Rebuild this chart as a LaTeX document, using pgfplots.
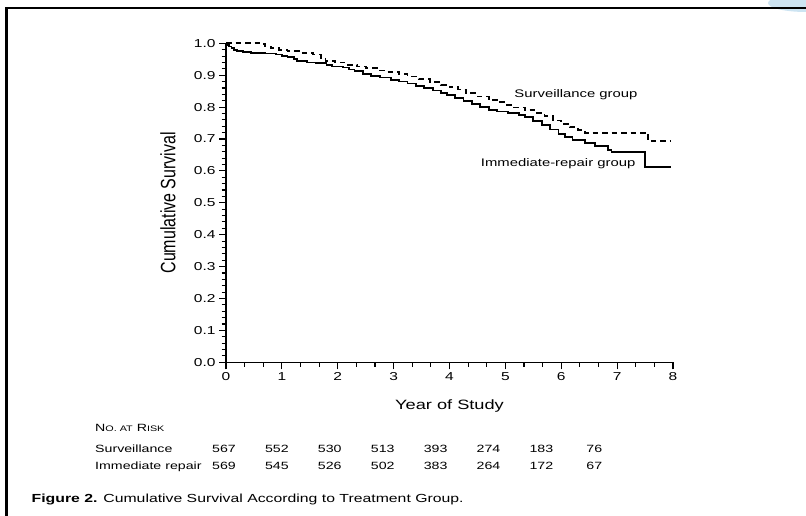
\documentclass[border=0pt]{standalone}
\usepackage{fontspec}
\setmainfont{Liberation Sans}[FakeStretch=1.35]
\newfontfamily\plainsans{Liberation Sans}
\usepackage{pgfplots}
\pgfplotsset{compat=1.18}
\definecolor{wmblue}{RGB}{205,228,242}
\begin{document}
\begin{tikzpicture}
\path[use as bounding box] (0,0) rectangle (806pt,-516pt);
\begin{scope}
\clip (0,0) rectangle (806pt,-516pt);
\fill[wmblue] (806pt,-3pt) ellipse (38pt and 9pt);
\end{scope}
\draw[line width=2.2pt] (6.5pt,-516pt) -- (6.5pt,-8pt) -- (806pt,-8pt);
\begin{axis}[
  at={(226pt,-362.3pt)}, anchor=south west,
  scale only axis, width=447pt, height=319pt,
  xmin=0, xmax=8, ymin=0, ymax=1,
  axis lines=left, axis line style={-, line width=1.3pt},
  xtick={0,1,2,3,4,5,6,7,8},
  ytick={0,0.1,0.2,0.3,0.4,0.5,0.6,0.7,0.8,0.9,1.0},
  minor x tick num=2, minor y tick num=4,
  tick align=outside, major tick length=7pt, minor tick length=4.3pt,
  every tick/.style={black, line width=1.1pt},
  ticklabel style={font=\fontsize{11.5}{12}\selectfont},
  /pgf/number format/assume math mode=true,
  yticklabel style={/pgf/number format/.cd, fixed, fixed zerofill, precision=1},
  xticklabel style={/pgf/number format/.cd, fixed, precision=0},
  xlabel={\fontsize{13.5}{14}\selectfont Year of Study},
  xlabel style={at={(axis description cs:0.5,-0.137)}, anchor=center},
  ylabel={\plainsans\fontsize{16}{16}\selectfont\scalebox{1}[1.3]{Cumulative Survival}},
  ylabel style={at={(axis description cs:-0.13,0.5)}, anchor=center, rotate=0},
  clip=false,
]
\addplot[const plot, black, line width=1.8pt] coordinates {
(0,1.0) (0.03,0.995) (0.06,0.99) (0.10,0.985) (0.14,0.98) (0.20,0.977)
(0.30,0.973) (0.45,0.970) (0.70,0.968) (0.90,0.965) (1.00,0.960) (1.10,0.957)
(1.22,0.950) (1.27,0.945) (1.45,0.940) (1.60,0.937) (1.80,0.932) (1.90,0.927)
(2.10,0.924) (2.20,0.918) (2.30,0.912) (2.45,0.905) (2.60,0.898) (2.75,0.893)
(2.95,0.886) (3.10,0.880) (3.25,0.874) (3.40,0.866) (3.55,0.860) (3.70,0.852)
(3.85,0.845) (3.95,0.838) (4.10,0.829) (4.25,0.819) (4.40,0.810) (4.55,0.800)
(4.70,0.791) (4.85,0.786) (5.05,0.781) (5.25,0.775) (5.35,0.770) (5.50,0.757)
(5.65,0.743) (5.80,0.730) (5.95,0.716) (6.06,0.707) (6.20,0.698) (6.42,0.687)
(6.60,0.678) (6.84,0.666) (6.90,0.660) (7.50,0.611) (7.97,0.611)
};
\addplot[const plot, black, line width=1.8pt, dash pattern=on 5.5pt off 4pt] coordinates {
(0,1.0) (0.60,0.997) (0.70,0.99) (0.80,0.985) (0.95,0.98) (1.10,0.975)
(1.35,0.970) (1.55,0.965) (1.70,0.955) (1.78,0.945) (1.95,0.940) (2.15,0.933)
(2.35,0.927) (2.50,0.922) (2.70,0.915) (2.85,0.911) (3.10,0.904) (3.25,0.896)
(3.45,0.889) (3.65,0.879) (3.85,0.870) (4.00,0.862) (4.15,0.855) (4.30,0.843)
(4.50,0.833) (4.70,0.822) (4.85,0.815) (5.00,0.806) (5.15,0.799) (5.35,0.790)
(5.55,0.782) (5.70,0.772) (5.85,0.758) (6.00,0.747) (6.15,0.737) (6.30,0.728)
(6.42,0.720) (7.55,0.694) (7.97,0.694)
};
\node[anchor=west, font=\fontsize{11}{12}\selectfont] at (axis cs:5.10,0.838) {Surveillance group};
\node[anchor=west, font=\fontsize{11}{12}\selectfont] at (axis cs:4.50,0.624) {Immediate-repair group};
\end{axis}
% at-risk table
\node[anchor=base west, inner sep=0pt] at (95pt,-431pt)
  {\fontsize{10.5}{11}\selectfont N{\fontsize{8}{9}\selectfont O. AT} R{\fontsize{8}{9}\selectfont ISK}};
\node[anchor=base west, inner sep=0pt, font=\fontsize{10.5}{12}\selectfont] at (95pt,-452.5pt) {Surveillance};
\node[anchor=base west, inner sep=0pt, font=\fontsize{10.5}{12}\selectfont] at (95pt,-469.5pt) {Immediate repair};
\foreach \v [count=\i from 0] in {567,552,530,513,393,274,183,76} {
  \node[anchor=base, inner sep=0pt, font=\fontsize{10.5}{12}\selectfont] at ({224pt+52.9pt*\i},-452.5pt) {\v};
}
\foreach \v [count=\i from 0] in {569,545,526,502,383,264,172,67} {
  \node[anchor=base, inner sep=0pt, font=\fontsize{10.5}{12}\selectfont] at ({224pt+52.9pt*\i},-469.5pt) {\v};
}
\node[anchor=base west, inner sep=0pt, font=\fontsize{11.7}{13}\selectfont] at (31.5pt,-502pt)
  {\textbf{Figure 2.} Cumulative Survival According to Treatment Group.};
\end{tikzpicture}
\end{document}
